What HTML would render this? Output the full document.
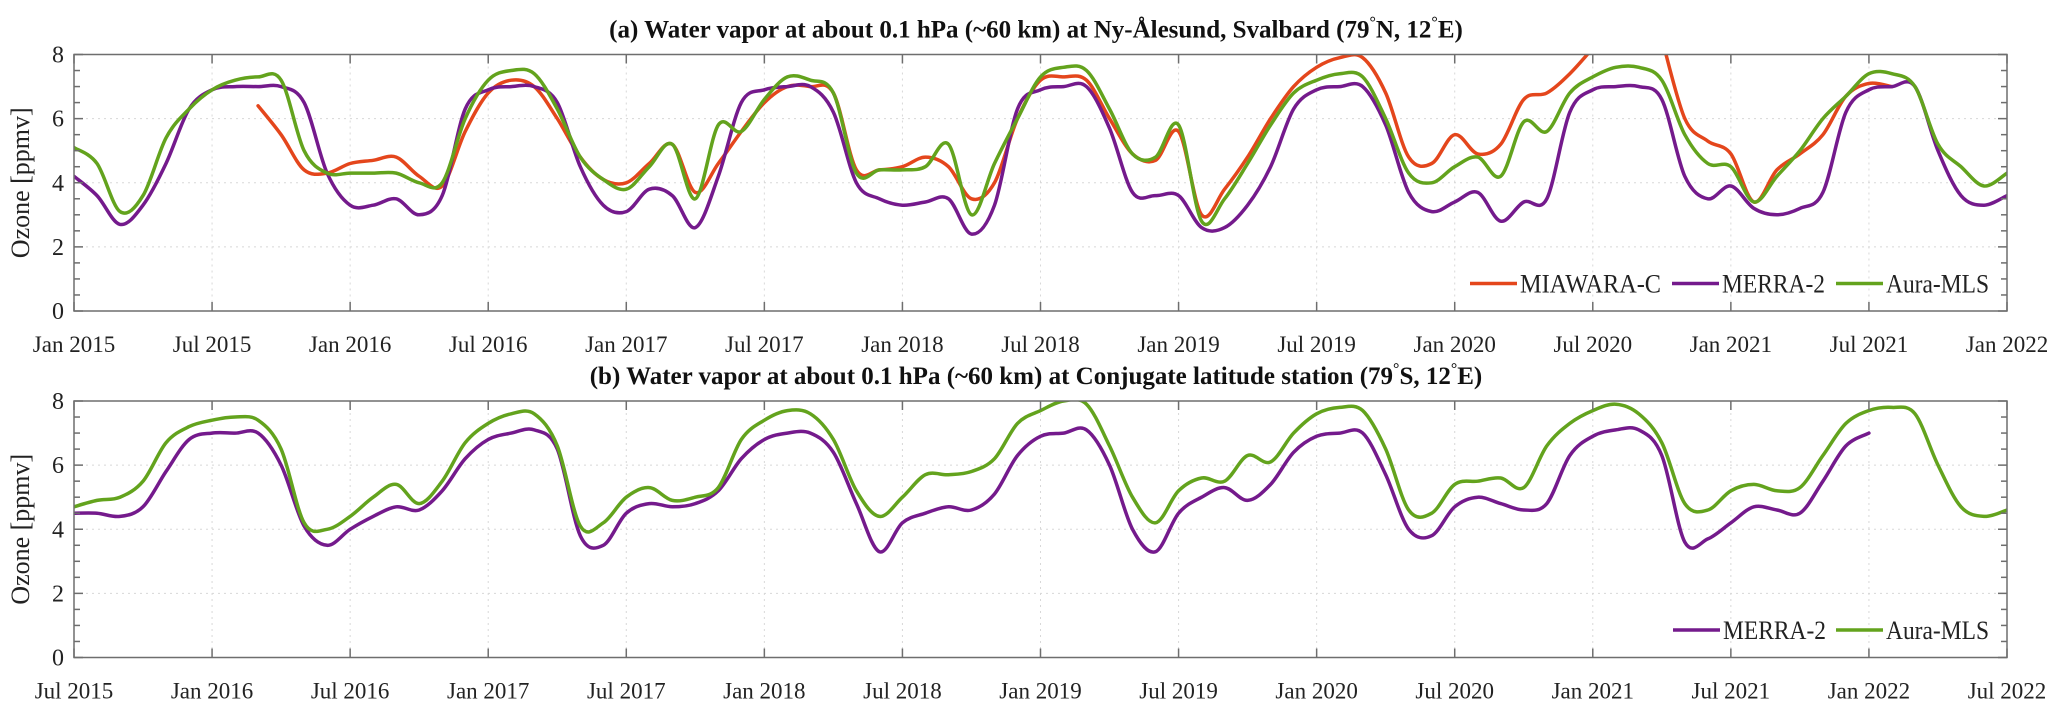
<!DOCTYPE html>
<html><head><meta charset="utf-8"><style>
html,body{margin:0;padding:0;background:#fff;}
svg{display:block;font-family:"Liberation Serif",serif;}
</style></head><body>
<svg id="chart" width="2067" height="716" viewBox="0 0 2067 716">
<defs>
<clipPath id="clipA"><rect x="74" y="54.5" width="1933" height="256.5"/></clipPath>
<clipPath id="clipB"><rect x="74" y="401" width="1933" height="256.5"/></clipPath>
</defs>
<g id="pa"></g>
<g id="pb"></g>
</svg>
<script>
const tickLabelsA = ["Jan 2015","Jul 2015","Jan 2016","Jul 2016","Jan 2017","Jul 2017","Jan 2018","Jul 2018","Jan 2019","Jul 2019","Jan 2020","Jul 2020","Jan 2021","Jul 2021","Jan 2022"];
const tickLabelsB = ["Jul 2015","Jan 2016","Jul 2016","Jan 2017","Jul 2017","Jan 2018","Jul 2018","Jan 2019","Jul 2019","Jan 2020","Jul 2020","Jan 2021","Jul 2021","Jan 2022","Jul 2022"];
const yTicks = [0,2,4,6,8];
const merraA = [4.2,3.6,2.7,3.3,4.6,6.3,6.9,7.0,7.0,7.0,6.5,4.3,
 3.3,3.3,3.5,3.0,3.6,6.3,6.9,7.0,7.0,6.5,4.5,3.3,
 3.1,3.8,3.6,2.6,4.2,6.5,6.9,7.0,7.0,6.2,4.0,3.5,
 3.3,3.4,3.5,2.4,3.3,6.3,6.9,7.0,7.0,5.7,3.7,3.6,
 3.6,2.6,2.6,3.3,4.5,6.3,6.9,7.0,7.0,5.8,3.7,3.1,
 3.4,3.7,2.8,3.4,3.5,6.2,6.9,7.0,7.0,6.6,4.2,3.5,
 3.9,3.2,3.0,3.2,3.7,6.2,6.9,7.0,7.0,5.0,3.6,3.3,
 3.6];
const auraA = [5.1,4.6,3.1,3.6,5.4,6.3,6.9,7.2,7.3,7.2,5.0,4.3,
 4.3,4.3,4.3,4.0,4.0,6.0,7.2,7.5,7.4,6.3,4.8,4.1,
 3.8,4.5,5.2,3.5,5.8,5.6,6.6,7.3,7.2,6.8,4.3,4.4,
 4.4,4.5,5.2,3.0,4.6,6.0,7.3,7.6,7.5,6.3,4.9,4.8,
 5.8,2.8,3.5,4.6,5.8,6.8,7.2,7.4,7.3,6.0,4.3,4.0,
 4.5,4.8,4.2,5.9,5.6,6.8,7.3,7.6,7.6,7.2,5.5,4.6,
 4.5,3.4,4.2,5.0,6.0,6.7,7.4,7.4,7.0,5.2,4.5,3.9,
 4.3];
const miawaraA = [null,null,null,null,null,null,null,null,6.4,5.5,4.4,4.3,
 4.6,4.7,4.8,4.2,3.9,5.6,6.8,7.2,7.0,6.0,4.8,4.1,
 4.0,4.6,5.2,3.7,4.6,5.6,6.5,7.0,7.0,6.8,4.4,4.4,
 4.5,4.8,4.5,3.5,4.0,6.0,7.2,7.3,7.2,6.0,4.9,4.7,
 5.6,3.0,3.8,4.8,6.0,7.0,7.6,7.9,7.9,6.8,4.8,4.6,
 5.5,4.9,5.2,6.6,6.8,7.4,8.2,null,null,8.5,6.0,5.3,
 4.9,3.4,4.4,4.9,5.5,6.7,7.1,7.0];
const merraB = [4.5,4.5,4.4,4.7,5.8,6.8,
 7.0,7.0,7.0,6.0,4.1,3.5,4.0,4.4,4.7,4.6,5.2,6.2,
 6.8,7.0,7.1,6.5,3.8,3.5,4.5,4.8,4.7,4.8,5.2,6.2,
 6.8,7.0,7.0,6.4,4.8,3.3,4.2,4.5,4.7,4.6,5.1,6.3,
 6.9,7.0,7.1,6.0,4.0,3.3,4.5,5.0,5.3,4.9,5.4,6.4,
 6.9,7.0,7.0,5.7,4.0,3.8,4.7,5.0,4.8,4.6,4.8,6.3,
 6.9,7.1,7.1,6.3,3.6,3.7,4.2,4.7,4.6,4.5,5.5,6.6,
 7.0];
const auraB = [4.7,4.9,5.0,5.5,6.7,7.2,
 7.4,7.5,7.4,6.5,4.2,4.0,4.4,5.0,5.4,4.8,5.5,6.7,
 7.3,7.6,7.6,6.6,4.1,4.2,5.0,5.3,4.9,5.0,5.3,6.8,
 7.4,7.7,7.6,6.8,5.2,4.4,5.0,5.7,5.7,5.8,6.2,7.3,
 7.7,8.0,7.9,6.6,5.0,4.2,5.2,5.6,5.5,6.3,6.1,7.0,
 7.6,7.8,7.7,6.5,4.6,4.5,5.4,5.5,5.6,5.3,6.6,7.3,
 7.7,7.9,7.6,6.7,4.8,4.6,5.2,5.4,5.2,5.3,6.3,7.3,
 7.7,7.8,7.6,6.0,4.7,4.4,4.6];

const NS="http://www.w3.org/2000/svg";
const X0=74, X1=2007, NM=84;
const COL={mia:"#e4461c",mer:"#741a8c",aura:"#63a31d",axis:"#6e6e6e"};
function mk(tag,attrs,parent){const e=document.createElementNS(NS,tag);for(const k in attrs)e.setAttribute(k,attrs[k]);parent.appendChild(e);return e;}
function xs(m){return X0+(X1-X0)*m/NM;}

function smoothPath(pts){
  let d="M"+pts[0][0].toFixed(1)+","+pts[0][1].toFixed(1);
  for(let i=0;i<pts.length-1;i++){
    const p0=pts[Math.max(0,i-1)],p1=pts[i],p2=pts[i+1],p3=pts[Math.min(pts.length-1,i+2)];
    const c1=[p1[0]+(p2[0]-p0[0])/6,p1[1]+(p2[1]-p0[1])/6];
    const c2=[p2[0]-(p3[0]-p1[0])/6,p2[1]-(p3[1]-p1[1])/6];
    d+="C"+c1[0].toFixed(1)+","+c1[1].toFixed(1)+" "+c2[0].toFixed(1)+","+c2[1].toFixed(1)+" "+p2[0].toFixed(1)+","+p2[1].toFixed(1);
  }
  return d;
}

function panel(g,top,title,ticks,series,legend,clip){
  const bot=top+256.5;
  const ys=v=>bot-(bot-top)*v/8;
  ticks.forEach((t,i)=>{const x=xs(i*6);
    const gl=mk("line",{x1:x,x2:x,y1:top,y2:bot,stroke:"#d8d8d8","stroke-width":1,"stroke-dasharray":"2,4"},g);
    
    
  });
  yTicks.forEach(v=>{
    const gl=mk("line",{x1:X0,x2:X1,y1:ys(v),y2:ys(v),stroke:"#d8d8d8","stroke-width":1,"stroke-dasharray":"2,4"},g);
    
    
  });
  const sg=mk("g",{"clip-path":"url(#"+clip+")"},g);
  series.forEach(s=>{
    let segs=[],cur=[];
    s.data.forEach((v,i)=>{if(v===null){if(cur.length)segs.push(cur);cur=[];}else cur.push([xs(i+s.off),ys(v)]);});
    if(cur.length)segs.push(cur);
    segs.forEach(sp=>{if(sp.length<2)return;
      const p=mk("path",{d:smoothPath(sp),fill:"none",stroke:s.color,"stroke-width":3.5,"stroke-linejoin":"round","stroke-linecap":"round"},sg);
      
      
    });
  });
  const bx=mk("rect",{x:X0,y:top,width:X1-X0,height:bot-top,fill:"none",stroke:COL.axis,"stroke-width":1.5},g);
  
  
  ticks.forEach((t,i)=>{const x=xs(i*6);
    mk("line",{x1:x,x2:x,y1:bot,y2:bot-9,stroke:COL.axis,"stroke-width":1.5},g);
    mk("line",{x1:x,x2:x,y1:top,y2:top+9,stroke:COL.axis,"stroke-width":1.5},g);
    const tl=mk("text",{x:x,y:bot+41,"font-size":23,"text-anchor":"middle",fill:"#222"},g);
    tl.textContent=t;
    
    
  });
  for(let v=0;v<=8;v+=0.5){
    const L=(v%2===0)?9:6;
    mk("line",{x1:X0,x2:X0+L,y1:ys(v),y2:ys(v),stroke:COL.axis,"stroke-width":1.5},g);
    mk("line",{x1:X1,x2:X1-L,y1:ys(v),y2:ys(v),stroke:COL.axis,"stroke-width":1.5},g);
  }
  yTicks.forEach(v=>{
    const tl=mk("text",{x:X0-10,y:ys(v)+8,"font-size":24,"text-anchor":"end",fill:"#222"},g);
    tl.textContent=v;
    
    
  });
  const yl=mk("text",{x:0,y:0,"font-size":26,"text-anchor":"middle",fill:"#222",transform:"translate(29,"+((top+bot)/2)+") rotate(-90)"},g);
  yl.textContent="Ozone [ppmv]";
  
  
  const tt=mk("text",{x:1036,y:top-17,"font-size":25,"font-weight":"bold","text-anchor":"middle",fill:"#111"},g);
  tt.innerHTML=title;
  
  
  legend.forEach(l=>{
    const ly=top+229;
    const ln=mk("line",{x1:l.x,x2:l.x+47,y1:ly,y2:ly,stroke:l.color,"stroke-width":3.5},g);
    
    
    const lt=mk("text",{x:l.x+50,y:ly+9,"font-size":26,fill:"#222",textLength:l.w,lengthAdjust:"spacingAndGlyphs"},g);
    lt.textContent=l.label;
    
    
  });
}

panel(document.getElementById("pa"),54.5,
 '(a) Water vapor at about 0.1 hPa (~60 km) at Ny-Ålesund, Svalbard (79<tspan dy="-10" font-size="16">°</tspan><tspan dy="10">N, 12</tspan><tspan dy="-10" font-size="16">°</tspan><tspan dy="10">E)</tspan>',
 tickLabelsA,
 [{name:"miawara-c",data:miawaraA,off:0,color:COL.mia},{name:"merra-2",data:merraA,off:0,color:COL.mer},{name:"aura-mls",data:auraA,off:0,color:COL.aura}],
 [{x:1470,label:"MIAWARA-C",color:COL.mia,w:141},{x:1672,label:"MERRA-2",color:COL.mer,w:103},{x:1836,label:"Aura-MLS",color:COL.aura,w:103}],"clipA");
panel(document.getElementById("pb"),401,
 '(b) Water vapor at about 0.1 hPa (~60 km) at Conjugate latitude station (79<tspan dy="-10" font-size="16">°</tspan><tspan dy="10">S, 12</tspan><tspan dy="-10" font-size="16">°</tspan><tspan dy="10">E)</tspan>',
 tickLabelsB,
 [{name:"merra-2",data:merraB,off:0,color:COL.mer},{name:"aura-mls",data:auraB,off:0,color:COL.aura}],
 [{x:1673,label:"MERRA-2",color:COL.mer,w:103},{x:1836,label:"Aura-MLS",color:COL.aura,w:103}],"clipB");
</script>
</body></html>
